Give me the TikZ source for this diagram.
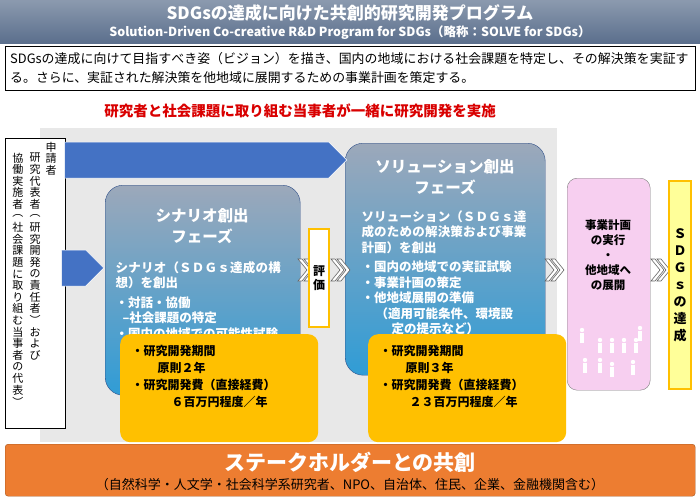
\documentclass[tikz,border=0pt]{standalone}
\usepackage{fontspec}
\setmainfont{Noto Sans CJK JP}
\XeTeXlinebreaklocale "ja"
\XeTeXlinebreakskip=0pt plus 1pt
\usetikzlibrary{shapes.arrows}
\definecolor{ttl}{HTML}{5A6E8C}
\definecolor{blu}{HTML}{4472C4}
\definecolor{org}{HTML}{FFC000}
\definecolor{org2}{HTML}{ED7D31}
\definecolor{pnk}{HTML}{F7CFF0}
\definecolor{ylw}{HTML}{FFFF99}
\newcommand{\chevr}[2]{%
 \foreach \d in {0,6}{\filldraw[fill=white,draw=gray!80!black,line width=0.6pt] ({#1+\d},{#2-11}) -- ({#1+\d+9},#2) -- ({#1+\d},{#2+11}) -- ({#1+\d+4},{#2+11}) -- ({#1+\d+13},#2) -- ({#1+\d+4},{#2-11}) -- cycle;}}
\newcommand{\vcol}[4]{% x, ystart, step, list
 \foreach \c [count=\i] in {#4}{\node[font=\fontsize{11}{11}\selectfont,inner sep=0pt] at (#1,{#2+(\i-1)*#3}) {\c};}}
\begin{document}
\begin{tikzpicture}[x=1pt,y=-1pt,
 phase/.style={rounded corners=18pt,draw=blu!70!black,top color=ttl!60!white,bottom color=blu!70!cyan},
 wtxt/.style={text=white,font=\bfseries,align=left},
 callout/.style={fill=org,rounded corners=10pt}]
\useasboundingbox (0,0) rectangle (700,500);
\fill[white] (0,0) rectangle (700,500);
% title
\fill[top color=ttl!70!white,bottom color=ttl] (0,0) rectangle (700,44);
\node[text=white,font=\bfseries\fontsize{17}{17}\selectfont] (t1) at (350,13) {SDGsの達成に向けた共創的研究開発プログラム};
\node[text=white,font=\bfseries\fontsize{12.5}{12.5}\selectfont] (t2) at (350,33) {Solution-Driven Co-creative R\&D Program for SDGs（略称：SOLVE for SDGs）};
\node[draw=black,fill=white,minimum width=690pt,minimum height=44pt,anchor=north west,text width=680pt,font=\fontsize{12.9}{19}\selectfont,align=left] (desc) at (5,46) {SDGsの達成に向けて目指すべき姿（ビジョン）を描き、国内の地域における社会課題を特定し、その解決策を実証する。さらに、実証された解決策を他地域に展開するための事業計画を策定する。};
\node[text=red!85!black,font=\bfseries\fontsize{14.5}{14.5}\selectfont] (red) at (300,111) {研究者と社会課題に取り組む当事者が一緒に研究開発を実施};
% background panel
\fill[gray!18] (40,128) rectangle (557,442);
% left vertical box
\node[draw=black,fill=white,minimum width=60pt,minimum height=290pt,anchor=north west] (app) at (5,138) {};
\vcol{51}{147}{11.6}{申,請,者}
\vcol{35}{158}{11.6}{研,究,代,表,者,︵,研,究,開,発,の,責,任,者,︶,お,よ,び}
\vcol{18}{158}{11.6}{協,働,実,施,者,︵,社,会,課,題,に,取,り,組,む,当,事,者,の,代,表,︶}
% phases
\node[phase,minimum width=195pt,minimum height=210pt,anchor=north west] (sc) at (105,185) {};
\node[phase,minimum width=200pt,minimum height=232pt,anchor=north west] (so) at (345,143) {};
% arrows
\node[single arrow,fill=blu,draw=white,line width=0.5pt,minimum height=282pt,minimum width=36pt,single arrow head extend=0pt,inner sep=6pt,anchor=tip] (a1) at (347,160) {};
\node[single arrow,fill=blu,draw=white,line width=0.5pt,minimum height=42pt,minimum width=36pt,single arrow head extend=0pt,inner sep=6pt,anchor=tip] (a2) at (104,268) {};
\node[wtxt,font=\bfseries\fontsize{15.5}{21}\selectfont,align=center] (sct) at (202,226) {シナリオ創出\\フェーズ};
\node[wtxt,font=\bfseries\fontsize{12.5}{15.5}\selectfont,anchor=north west,text width=172pt] (scb) at (112,258) {シナリオ（ＳＤＧｓ達成の構想）を創出\\[4pt]・対話・協働\\\hspace*{7pt}‒社会課題の特定\\・国内の地域での可能性試験};
\node[wtxt,font=\bfseries\fontsize{15.5}{21}\selectfont,align=center] (sot) at (445,177) {ソリューション創出\\フェーズ};
\node[wtxt,font=\bfseries\fontsize{12.5}{15.5}\selectfont,anchor=north west,text width=170pt] (sob) at (358,207) {ソリューション（ＳＤＧｓ達成のための解決策および事業計画）を創出\\[4pt]・国内の地域での実証試験\\・事業計画の策定\\・他地域展開の準備\\\hspace*{14pt}（適用可能条件、環境設\\\hspace*{30pt}定の提示など）};
% evaluation
\chevr{298}{270}
\node[draw=org,line width=1.2pt,fill=white,minimum width=20pt,minimum height=98pt,font=\bfseries\fontsize{12}{14}\selectfont,align=center,inner sep=1pt] (ev) at (319,278) {評\\価};
\chevr{331}{270}
\chevr{545}{270}
\node[draw=gray,fill=pnk,rounded corners=10pt,minimum width=83pt,minimum height=212pt,anchor=north west] (pk) at (567,178) {};
\node[font=\bfseries\fontsize{11.5}{15}\selectfont,align=center] (pkt) at (608,255) {事業計画\\の実行\\・\\他地域へ\\の展開};
\foreach \px/\py in {582/330,600/340,612/340,624/340,636/340,640/328,585/360,600/360,612/364,633/362}
 {\fill[white] (\px,\py) circle (2.2pt); \fill[white] (\px-2,\py+3) rectangle (\px+2,\py+13);}
\chevr{651}{270}
\node[draw=org,line width=2.5pt,fill=ylw,minimum width=22pt,minimum height=208pt,font=\bfseries\fontsize{13}{17}\selectfont,align=center,inner sep=1pt] (sdg) at (680,285) {Ｓ\\Ｄ\\Ｇ\\ｓ\\の\\達\\成};
% callouts
\node[callout,minimum width=198pt,minimum height=108pt,anchor=north west] (o1) at (120,334) {};
\node[font=\bfseries\fontsize{12}{17}\selectfont,align=left,anchor=north west] (o1t) at (128,342) {・研究開発期間\\\hspace*{26pt}原則２年\\・研究開発費（直接経費）\\\hspace*{40pt}６百万円程度／年};
\node[callout,minimum width=198pt,minimum height=108pt,anchor=north west] (o2) at (368,334) {};
\node[font=\bfseries\fontsize{12}{17}\selectfont,align=left,anchor=north west] (o2t) at (376,342) {・研究開発期間\\\hspace*{26pt}原則３年\\・研究開発費（直接経費）\\\hspace*{30pt}２３百万円程度／年};
% bottom
\node[draw=org2!70!black,fill=org2,rounded corners=3pt,minimum width=690pt,minimum height=52pt,anchor=north west] (bt) at (5,444) {};
\node[text=white,font=\bfseries\fontsize{21}{21}\selectfont] (btt) at (350,462) {ステークホルダーとの共創};
\node[font=\fontsize{13}{13}\selectfont] (bts) at (350,485) {（自然科学・人文学・社会科学系研究者、NPO、自治体、住民、企業、金融機関含む）};
\end{tikzpicture}
\end{document}
